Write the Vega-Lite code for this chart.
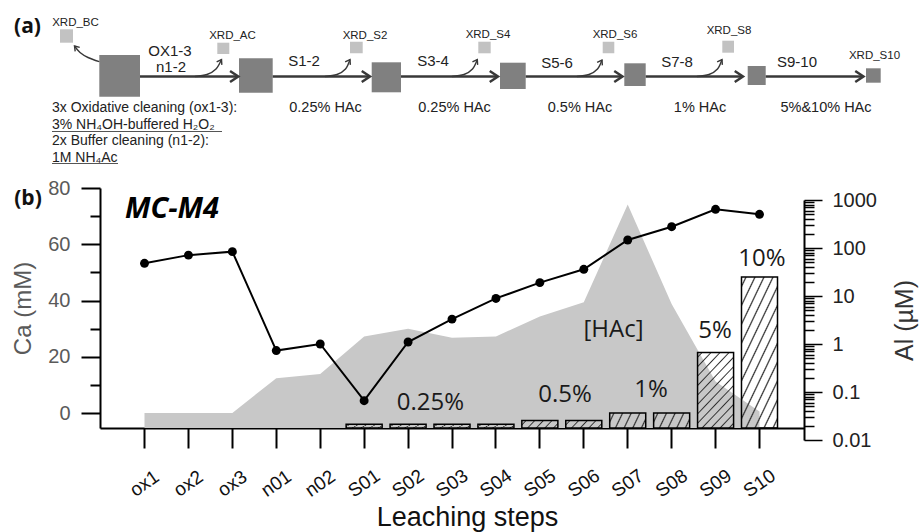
{
  "$schema": "https://vega.github.io/schema/vega-lite/v6.json",
  "width": 704,
  "height": 240,
  "autosize": "none",
  "padding": {"left": 100, "top": 188, "right": 118, "bottom": 104},
  "background": "white",
  "config": {
    "view": {"stroke": null},
    "axis": {"labelFont": "Liberation Sans", "titleFont": "Liberation Sans", "grid": false}
  },
  "datasets": {
    "steps": [
      {"step": "ox1", "Ca": 0, "Al": 48},
      {"step": "ox2", "Ca": 0, "Al": 71},
      {"step": "ox3", "Ca": 0, "Al": 84},
      {"step": "n01", "Ca": 12.4, "Al": 0.73},
      {"step": "n02", "Ca": 13.9, "Al": 1.0},
      {"step": "S01", "Ca": 27.2, "Al": 0.066, "HAc": 0.25},
      {"step": "S02", "Ca": 30.0, "Al": 1.1, "HAc": 0.25},
      {"step": "S03", "Ca": 26.8, "Al": 3.3, "HAc": 0.25},
      {"step": "S04", "Ca": 27.2, "Al": 8.9, "HAc": 0.25},
      {"step": "S05", "Ca": 34.3, "Al": 19, "HAc": 0.5},
      {"step": "S06", "Ca": 39.4, "Al": 36, "HAc": 0.5},
      {"step": "S07", "Ca": 74.1, "Al": 147, "HAc": 1},
      {"step": "S08", "Ca": 38.8, "Al": 278, "HAc": 1},
      {"step": "S09", "Ca": 11.2, "Al": 640, "HAc": 5},
      {"step": "S10", "Ca": 0.5, "Al": 503, "HAc": 10}
    ],
    "boxes": [
      {"x": 99.3, "x2": 140, "y": 55, "y2": 96.7},
      {"x": 239, "x2": 272.7, "y": 58.3, "y2": 92.7},
      {"x": 371.7, "x2": 401, "y": 62.3, "y2": 92.3},
      {"x": 500, "x2": 525.7, "y": 62.7, "y2": 89},
      {"x": 624.3, "x2": 645.7, "y": 63.3, "y2": 86},
      {"x": 747.7, "x2": 765.7, "y": 66, "y2": 85},
      {"x": 866, "x2": 880.7, "y": 68.3, "y2": 82.7}
    ],
    "xrdBoxes": [
      {"x": 60, "x2": 73, "y": 29.3, "y2": 42.7},
      {"x": 217.3, "x2": 229.3, "y": 42.7, "y2": 54},
      {"x": 350, "x2": 362.7, "y": 41.7, "y2": 53.3},
      {"x": 478.3, "x2": 490.7, "y": 41.7, "y2": 53.3},
      {"x": 602.7, "x2": 614.3, "y": 41.7, "y2": 53.3},
      {"x": 722.3, "x2": 734, "y": 40.7, "y2": 52.7}
    ],
    "arrows": [
      {"x": 140, "x2": 237, "y": 76.5},
      {"x": 272.7, "x2": 369, "y": 76.5},
      {"x": 401, "x2": 497, "y": 76.5},
      {"x": 525.7, "x2": 621.5, "y": 76.5},
      {"x": 645.7, "x2": 742, "y": 76.5},
      {"x": 765.7, "x2": 862.5, "y": 76.5}
    ],
    "arrowTips": [
      {"x": 238.3, "y": 76.5},
      {"x": 370, "y": 76.5},
      {"x": 498, "y": 76.5},
      {"x": 622.5, "y": 76.5},
      {"x": 743, "y": 76.5},
      {"x": 863.5, "y": 76.5}
    ],
    "branches": [
      {"id": "BC", "x": 74.5, "y": 46},
      {"id": "BC", "x": 80, "y": 52.5},
      {"id": "BC", "x": 88, "y": 57.5},
      {"id": "BC", "x": 99.3, "y": 61.7},
      {"id": "AC", "x": 195, "y": 76.5},
      {"id": "AC", "x": 207, "y": 74.5},
      {"id": "AC", "x": 216, "y": 69},
      {"id": "AC", "x": 221.5, "y": 59.5},
      {"id": "S2", "x": 325, "y": 76.5},
      {"id": "S2", "x": 337, "y": 74.5},
      {"id": "S2", "x": 345.5, "y": 69},
      {"id": "S2", "x": 350, "y": 59.5},
      {"id": "S4", "x": 452, "y": 76.5},
      {"id": "S4", "x": 464, "y": 74.5},
      {"id": "S4", "x": 472.5, "y": 69},
      {"id": "S4", "x": 477.3, "y": 59.5},
      {"id": "S6", "x": 577, "y": 76.5},
      {"id": "S6", "x": 589, "y": 74.5},
      {"id": "S6", "x": 597.5, "y": 69},
      {"id": "S6", "x": 602, "y": 60},
      {"id": "S8", "x": 697, "y": 76.5},
      {"id": "S8", "x": 709, "y": 74.5},
      {"id": "S8", "x": 717.5, "y": 69},
      {"id": "S8", "x": 722, "y": 59.5}
    ],
    "branchTips": [
      {"x": 221.5, "y": 59.5},
      {"x": 350, "y": 59.5},
      {"x": 477.3, "y": 59.5},
      {"x": 602, "y": 60},
      {"x": 722, "y": 59.5}
    ],
    "bcTip": [{"x": 74.5, "y": 46}],
    "xrdLabels": [
      {"x": 75.5, "y": 22.5, "text": "XRD_BC"},
      {"x": 232.5, "y": 35.5, "text": "XRD_AC"},
      {"x": 365, "y": 36, "text": "XRD_S2"},
      {"x": 488, "y": 34.5, "text": "XRD_S4"},
      {"x": 615, "y": 34.5, "text": "XRD_S6"},
      {"x": 729, "y": 30.5, "text": "XRD_S8"},
      {"x": 874.5, "y": 55.5, "text": "XRD_S10"}
    ],
    "stepLabels": [
      {"x": 170, "y": 51, "text": "OX1-3"},
      {"x": 171, "y": 67, "text": "n1-2"},
      {"x": 304, "y": 61, "text": "S1-2"},
      {"x": 433, "y": 61, "text": "S3-4"},
      {"x": 557, "y": 62.5, "text": "S5-6"},
      {"x": 677, "y": 62, "text": "S7-8"},
      {"x": 797, "y": 62, "text": "S9-10"}
    ],
    "acid": [
      {"x": 325.5, "y": 107.5, "text": "0.25% HAc"},
      {"x": 454.5, "y": 107.5, "text": "0.25% HAc"},
      {"x": 580, "y": 107.5, "text": "0.5% HAc"},
      {"x": 700, "y": 107.5, "text": "1% HAc"},
      {"x": 826, "y": 107.5, "text": "5%&10% HAc"}
    ],
    "notes": [
      {"x": 52, "y": 107.5, "text": "3x Oxidative cleaning (ox1-3):"},
      {"x": 52, "y": 124.5, "text": "3% NH₄OH-buffered H₂O₂"},
      {"x": 52, "y": 141, "text": "2x Buffer cleaning (n1-2):"},
      {"x": 52, "y": 157.5, "text": "1M NH₄Ac"}
    ],
    "underlines": [
      {"x": 52, "x2": 222, "y": 131.5},
      {"x": 52, "x2": 118, "y": 163.5}
    ],
    "tags": [
      {"x": 27.5, "y": 26.5, "text": "(a)"},
      {"x": 28, "y": 199, "text": "(b)"}
    ],
    "sampleName": [{"x": 172, "y": 218, "text": "MC-M4"}],
    "pct": [
      {"x": 430.5, "y": 410, "text": "0.25%"},
      {"x": 565, "y": 401.7, "text": "0.5%"},
      {"x": 651, "y": 397.3, "text": "1%"},
      {"x": 715, "y": 338.3, "text": "5%"},
      {"x": 762, "y": 265.7, "text": "10%"},
      {"x": 613.5, "y": 336.5, "text": "[HAc]"}
    ]
  },
  "layer": [
    {
      "data": {"name": "steps"},
      "encoding": {
        "x": {
          "field": "step",
          "type": "nominal",
          "sort": null,
          "scale": {
            "type": "band",
            "domain": ["ox1", "ox2", "ox3", "n01", "n02", "S01", "S02", "S03", "S04", "S05", "S06", "S07", "S08", "S09", "S10"],
            "paddingInner": 0.18,
            "paddingOuter": 0.603
          },
          "axis": {
            "title": "Leaching steps",
            "titleFontSize": 27,
            "titleFontWeight": "normal",
            "titleColor": "#111111",
            "titlePadding": 4,
            "titleX": 367,
            "labelAngle": -35,
            "labelAlign": "center",
            "labelBaseline": "middle",
            "labelPadding": 35,
            "labelFontSize": 19,
            "labelColor": "#111111",
            "tickSize": 20,
            "tickWidth": 2,
            "tickColor": "black",
            "domainColor": "black",
            "domainWidth": 2
          }
        }
      },
      "layer": [
        {
          "mark": {"type": "area", "color": "#c8c8c8", "interpolate": "linear"},
          "encoding": {
            "y": {
              "field": "Ca",
              "type": "quantitative",
              "scale": {"domain": [-5.33, 80], "nice": false, "zero": false},
              "axis": {
                "orient": "left",
                "values": [0, 10, 20, 30, 40, 50, 60, 70, 80],
                "tickSize": {"condition": {"test": "datum.value % 20 === 0", "value": 19}, "value": 10},
                "labelExpr": "datum.value % 20 === 0 ? datum.label : ''",
                "labelOverlap": false,
                "tickWidth": 2,
                "tickColor": "black",
                "domainColor": "black",
                "domainWidth": 2,
                "labelFontSize": 20,
                "labelColor": "#5a5a5a",
                "labelPadding": 11,
                "title": "Ca (mM)",
                "titleFontSize": 24,
                "titleFontWeight": "normal",
                "titleColor": "#5a5a5a",
                "titlePadding": 12
              }
            },
            "y2": {"datum": -5.33}
          }
        },
        {
          "transform": [{"filter": "isValid(datum.HAc) && datum.HAc <= 1"}],
          "mark": {
            "type": "bar",
            "stroke": "black",
            "strokeWidth": 1.5,
            "fill": {
              "gradient": "linear", "x1": 0, "y1": 0, "x2": 1.154, "y2": 0.231,
              "stops": [
                {"offset": 0, "color": "rgba(51,51,51,0)"},
                {"offset": 0.07, "color": "rgba(51,51,51,0)"}, {"offset": 0.1, "color": "#303030"}, {"offset": 0.13, "color": "rgba(51,51,51,0)"},
                {"offset": 0.27, "color": "rgba(51,51,51,0)"}, {"offset": 0.3, "color": "#303030"}, {"offset": 0.33, "color": "rgba(51,51,51,0)"},
                {"offset": 0.47, "color": "rgba(51,51,51,0)"}, {"offset": 0.5, "color": "#303030"}, {"offset": 0.53, "color": "rgba(51,51,51,0)"},
                {"offset": 0.67, "color": "rgba(51,51,51,0)"}, {"offset": 0.7, "color": "#303030"}, {"offset": 0.73, "color": "rgba(51,51,51,0)"},
                {"offset": 0.87, "color": "rgba(51,51,51,0)"}, {"offset": 0.9, "color": "#303030"}, {"offset": 0.93, "color": "rgba(51,51,51,0)"},
                {"offset": 1, "color": "rgba(51,51,51,0)"}
              ]
            }
          },
          "encoding": {
            "y": {"field": "HAc", "type": "quantitative", "scale": {"domain": [0, 15.9], "nice": false}, "axis": null}
          }
        },
        {
          "transform": [{"filter": "isValid(datum.HAc) && datum.HAc >= 5"}],
          "mark": {
            "type": "bar",
            "stroke": "black",
            "strokeWidth": 1.5,
            "fill": {
              "gradient": "linear", "x1": 0, "y1": 0, "x2": 0.6, "y2": 1.2,
              "stops": [
                {"offset": 0, "color": "rgba(51,51,51,0)"},
                {"offset": 0.0292, "color": "rgba(51,51,51,0)"}, {"offset": 0.0417, "color": "#303030"}, {"offset": 0.0542, "color": "rgba(51,51,51,0)"},
                {"offset": 0.1125, "color": "rgba(51,51,51,0)"}, {"offset": 0.125, "color": "#303030"}, {"offset": 0.1375, "color": "rgba(51,51,51,0)"},
                {"offset": 0.1958, "color": "rgba(51,51,51,0)"}, {"offset": 0.2083, "color": "#303030"}, {"offset": 0.2208, "color": "rgba(51,51,51,0)"},
                {"offset": 0.2792, "color": "rgba(51,51,51,0)"}, {"offset": 0.2917, "color": "#303030"}, {"offset": 0.3042, "color": "rgba(51,51,51,0)"},
                {"offset": 0.3625, "color": "rgba(51,51,51,0)"}, {"offset": 0.375, "color": "#303030"}, {"offset": 0.3875, "color": "rgba(51,51,51,0)"},
                {"offset": 0.4458, "color": "rgba(51,51,51,0)"}, {"offset": 0.4583, "color": "#303030"}, {"offset": 0.4708, "color": "rgba(51,51,51,0)"},
                {"offset": 0.5292, "color": "rgba(51,51,51,0)"}, {"offset": 0.5417, "color": "#303030"}, {"offset": 0.5542, "color": "rgba(51,51,51,0)"},
                {"offset": 0.6125, "color": "rgba(51,51,51,0)"}, {"offset": 0.625, "color": "#303030"}, {"offset": 0.6375, "color": "rgba(51,51,51,0)"},
                {"offset": 0.6958, "color": "rgba(51,51,51,0)"}, {"offset": 0.7083, "color": "#303030"}, {"offset": 0.7208, "color": "rgba(51,51,51,0)"},
                {"offset": 0.7792, "color": "rgba(51,51,51,0)"}, {"offset": 0.7917, "color": "#303030"}, {"offset": 0.8042, "color": "rgba(51,51,51,0)"},
                {"offset": 0.8625, "color": "rgba(51,51,51,0)"}, {"offset": 0.875, "color": "#303030"}, {"offset": 0.8875, "color": "rgba(51,51,51,0)"},
                {"offset": 0.9458, "color": "rgba(51,51,51,0)"}, {"offset": 0.9583, "color": "#303030"}, {"offset": 0.9708, "color": "rgba(51,51,51,0)"},
                {"offset": 1, "color": "rgba(51,51,51,0)"}
              ]
            }
          },
          "encoding": {
            "y": {"field": "HAc", "type": "quantitative", "scale": {"domain": [0, 15.9], "nice": false}, "axis": null}
          }
        },
        {
          "mark": {
            "type": "line",
            "color": "black",
            "strokeWidth": 2,
            "point": {"filled": true, "size": 80, "color": "black", "opacity": 1}
          },
          "encoding": {
            "y": {
              "field": "Al",
              "type": "quantitative",
              "scale": {"type": "log", "domain": [0.01, 1000], "range": [252, 12], "nice": false},
              "axis": {
                "orient": "right",
                "values": [0.01, 0.02, 0.03, 0.04, 0.05, 0.06, 0.07, 0.08, 0.09, 0.1, 0.2, 0.3, 0.4, 0.5, 0.6, 0.7, 0.8, 0.9, 1, 2, 3, 4, 5, 6, 7, 8, 9, 10, 20, 30, 40, 50, 60, 70, 80, 90, 100, 200, 300, 400, 500, 600, 700, 800, 900, 1000],
                "tickSize": {"condition": {"test": "abs(log(datum.value) / LN10 - round(log(datum.value) / LN10)) < 0.001", "value": 18}, "value": 10},
                "labelExpr": "abs(log(datum.value) / LN10 - round(log(datum.value) / LN10)) < 0.001 ? format(datum.value, '~g') : ''",
                "labelOverlap": false,
                "tickWidth": 1.5,
                "tickColor": "black",
                "domainColor": "black",
                "domainWidth": 2,
                "labelFontSize": 20,
                "labelColor": "#222222",
                "labelPadding": 10,
                "title": "Al (µM)",
                "titleAngle": -90,
                "titleBaseline": "top",
                "titleFontSize": 25,
                "titleFontWeight": "normal",
                "titleColor": "#333333",
                "titlePadding": 16
              }
            }
          }
        }
      ],
      "resolve": {"scale": {"y": "independent"}}
    },
    {
      "encoding": {
        "x": {"field": "x", "type": "quantitative", "scale": {"domain": [100, 804], "nice": false, "zero": false}, "axis": null},
        "y": {"field": "y", "type": "quantitative", "scale": {"domain": [188, 428], "nice": false, "zero": false, "reverse": true}, "axis": null}
      },
      "layer": [
        {
          "data": {"name": "boxes"},
          "mark": {"type": "rect", "fill": "#808080"},
          "encoding": {"x2": {"field": "x2"}, "y2": {"field": "y2"}}
        },
        {
          "data": {"name": "xrdBoxes"},
          "mark": {"type": "rect", "fill": "#c2c2c2"},
          "encoding": {"x2": {"field": "x2"}, "y2": {"field": "y2"}}
        },
        {
          "data": {"name": "arrows"},
          "mark": {"type": "rule", "stroke": "#383838", "strokeWidth": 2.5},
          "encoding": {"x2": {"field": "x2"}}
        },
        {
          "data": {"name": "arrowTips"},
          "mark": {"type": "point", "shape": "M-1.5,-1L0,0L-1.5,1", "filled": false, "stroke": "#383838", "strokeWidth": 2.5, "size": 121, "opacity": 1},
          "encoding": {}
        },
        {
          "data": {"name": "branches"},
          "mark": {"type": "line", "interpolate": "cardinal", "stroke": "#383838", "strokeWidth": 1.4},
          "encoding": {"detail": {"field": "id"}}
        },
        {
          "data": {"name": "branchTips"},
          "mark": {"type": "point", "shape": "M-1.5,-1L0,0L-1.5,1", "filled": false, "stroke": "#383838", "strokeWidth": 1.4, "size": 36, "angle": 300, "opacity": 1},
          "encoding": {}
        },
        {
          "data": {"name": "bcTip"},
          "mark": {"type": "point", "shape": "M-1.5,-1L0,0L-1.5,1", "filled": false, "stroke": "#383838", "strokeWidth": 1.4, "size": 36, "angle": 229, "opacity": 1},
          "encoding": {}
        },
        {
          "data": {"name": "underlines"},
          "mark": {"type": "rule", "stroke": "#555555", "strokeWidth": 1},
          "encoding": {"x2": {"field": "x2"}}
        },
        {
          "data": {"name": "xrdLabels"},
          "mark": {"type": "text", "font": "Liberation Sans", "fontSize": 11.5, "fill": "#222222", "align": "center", "baseline": "middle"},
          "encoding": {"text": {"field": "text"}}
        },
        {
          "data": {"name": "stepLabels"},
          "mark": {"type": "text", "font": "Liberation Sans", "fontSize": 15, "fill": "#222222", "align": "center", "baseline": "middle"},
          "encoding": {"text": {"field": "text"}}
        },
        {
          "data": {"name": "acid"},
          "mark": {"type": "text", "font": "Liberation Sans", "fontSize": 14.5, "fill": "#222222", "align": "center", "baseline": "middle"},
          "encoding": {"text": {"field": "text"}}
        },
        {
          "data": {"name": "notes"},
          "mark": {"type": "text", "font": "Liberation Sans", "fontSize": 14, "fill": "#222222", "align": "left", "baseline": "middle"},
          "encoding": {"text": {"field": "text"}}
        },
        {
          "data": {"name": "tags"},
          "mark": {"type": "text", "font": "Open Sans", "fontWeight": "bold", "fontSize": 21, "fill": "#111111", "align": "center", "baseline": "middle"},
          "encoding": {"text": {"field": "text"}}
        },
        {
          "data": {"name": "sampleName"},
          "mark": {"type": "text", "font": "Open Sans", "fontWeight": "bold", "fontStyle": "italic", "fontSize": 29, "fill": "#000000", "align": "center", "baseline": "alphabetic"},
          "encoding": {"text": {"field": "text"}}
        },
        {
          "data": {"name": "pct"},
          "mark": {"type": "text", "font": "Open Sans", "fontSize": 24, "fill": "#1a1a1a", "align": "center", "baseline": "alphabetic"},
          "encoding": {"text": {"field": "text"}}
        }
      ]
    }
  ],
  "resolve": {"scale": {"x": "independent", "y": "independent"}}
}
